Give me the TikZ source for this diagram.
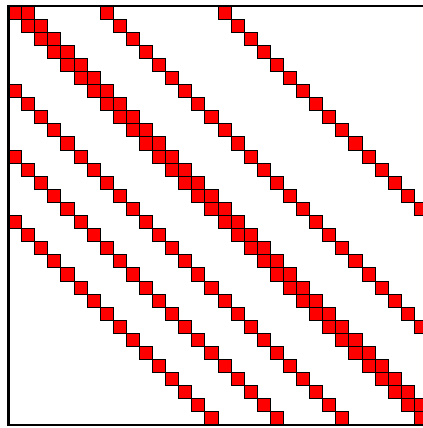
\documentclass[tikz,border=0pt]{standalone}
\usepackage{tikz}

\begin{document}
\begin{tikzpicture}[
    x=0.35cm, y=0.35cm,
    entry/.style={draw=black, fill=red, line width=0.7pt},
    frame/.style={draw=black, line width=2.2pt}
]
\useasboundingbox (-0.65,0.46) rectangle (31.64,-32.23);

% Nonzero diagonals (offset = column - row)
\foreach \d in {0,1,7,16,-6,-11,-16} {
  \pgfmathtruncatemacro{\len}{31-abs(\d)}
  \pgfmathtruncatemacro{\rowstart}{max(0,-\d)}
  \pgfmathtruncatemacro{\colstart}{max(0,\d)}
  \foreach \k in {0,...,\len} {
    \draw[entry] ({\colstart+\k},{-\rowstart-\k}) rectangle ++(1,-1);
  }
}

% Matrix frame
\draw[frame] (0,0) rectangle (32,-32);

\end{tikzpicture}
\end{document}
